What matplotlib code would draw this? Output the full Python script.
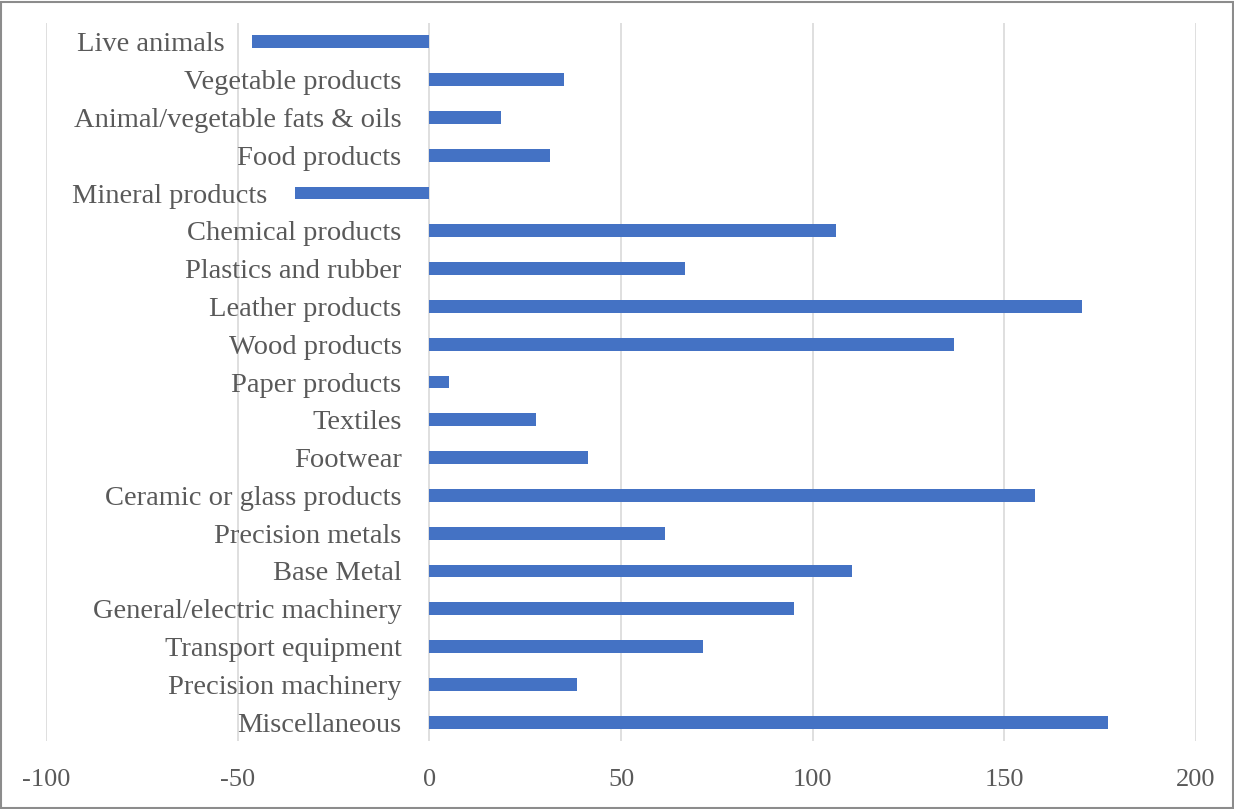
import matplotlib
matplotlib.use("Agg")
import matplotlib.pyplot as plt
from matplotlib.patches import Rectangle

categories = ["Live animals", "Vegetable products", "Animal/vegetable fats & oils",
              "Food products", "Mineral products", "Chemical products",
              "Plastics and rubber", "Leather products", "Wood products",
              "Paper products", "Textiles", "Footwear", "Ceramic or glass products",
              "Precision metals", "Base Metal", "General/electric machinery",
              "Transport equipment", "Precision machinery", "Miscellaneous"]
values = [-46.2, 35.2, 18.8, 31.6, -35.0, 106.0, 66.8, 170.2, 136.8, 5.0,
          27.9, 41.3, 158.0, 61.4, 110.2, 95.0, 71.3, 38.4, 177.0]
xticks = [-100, -50, 0, 50, 100, 150, 200]

text_col = "#595959"
plt.rcParams['font.family'] = ['Liberation Serif', 'DejaVu Serif']

fig = plt.figure(figsize=(12.34, 8.09), dpi=100)
W, H = 1234, 809
ax = fig.add_axes([46 / W, (809 - 741) / H, (1196 - 46) / W, (741 - 23) / H])

n = len(categories)
ypos = list(range(n))
ax.barh(ypos, values, height=0.34, color="#4472C4", zorder=3)
ax.set_ylim(n - 0.5, -0.5)
ax.set_xlim(-100, 200)
ax.set_xticks(xticks)
ax.set_xticklabels([str(t) for t in xticks], fontsize=19, color=text_col)
ax.tick_params(axis="x", length=0, pad=20)
ax.set_yticks([])
ax.grid(axis="x", color="#D9D9D9", linewidth=1.2, zorder=0)
for s in ax.spines.values():
    s.set_visible(False)

# category labels sit just left of the bar start (or of 0)
for y, lab, v in zip(ypos, categories, values):
    ax.annotate(lab, xy=(min(v, 0), y), xytext=(-20, 0), textcoords="offset points",
                ha="right", va="center_baseline", fontsize=20.5, color=text_col, zorder=4)

fig.patches.append(Rectangle((0.001, 0.001), 0.998, 0.997, transform=fig.transFigure,
                             fill=False, edgecolor="#8C8C8C", linewidth=1.5))

fig.savefig("out.png", dpi=100)
